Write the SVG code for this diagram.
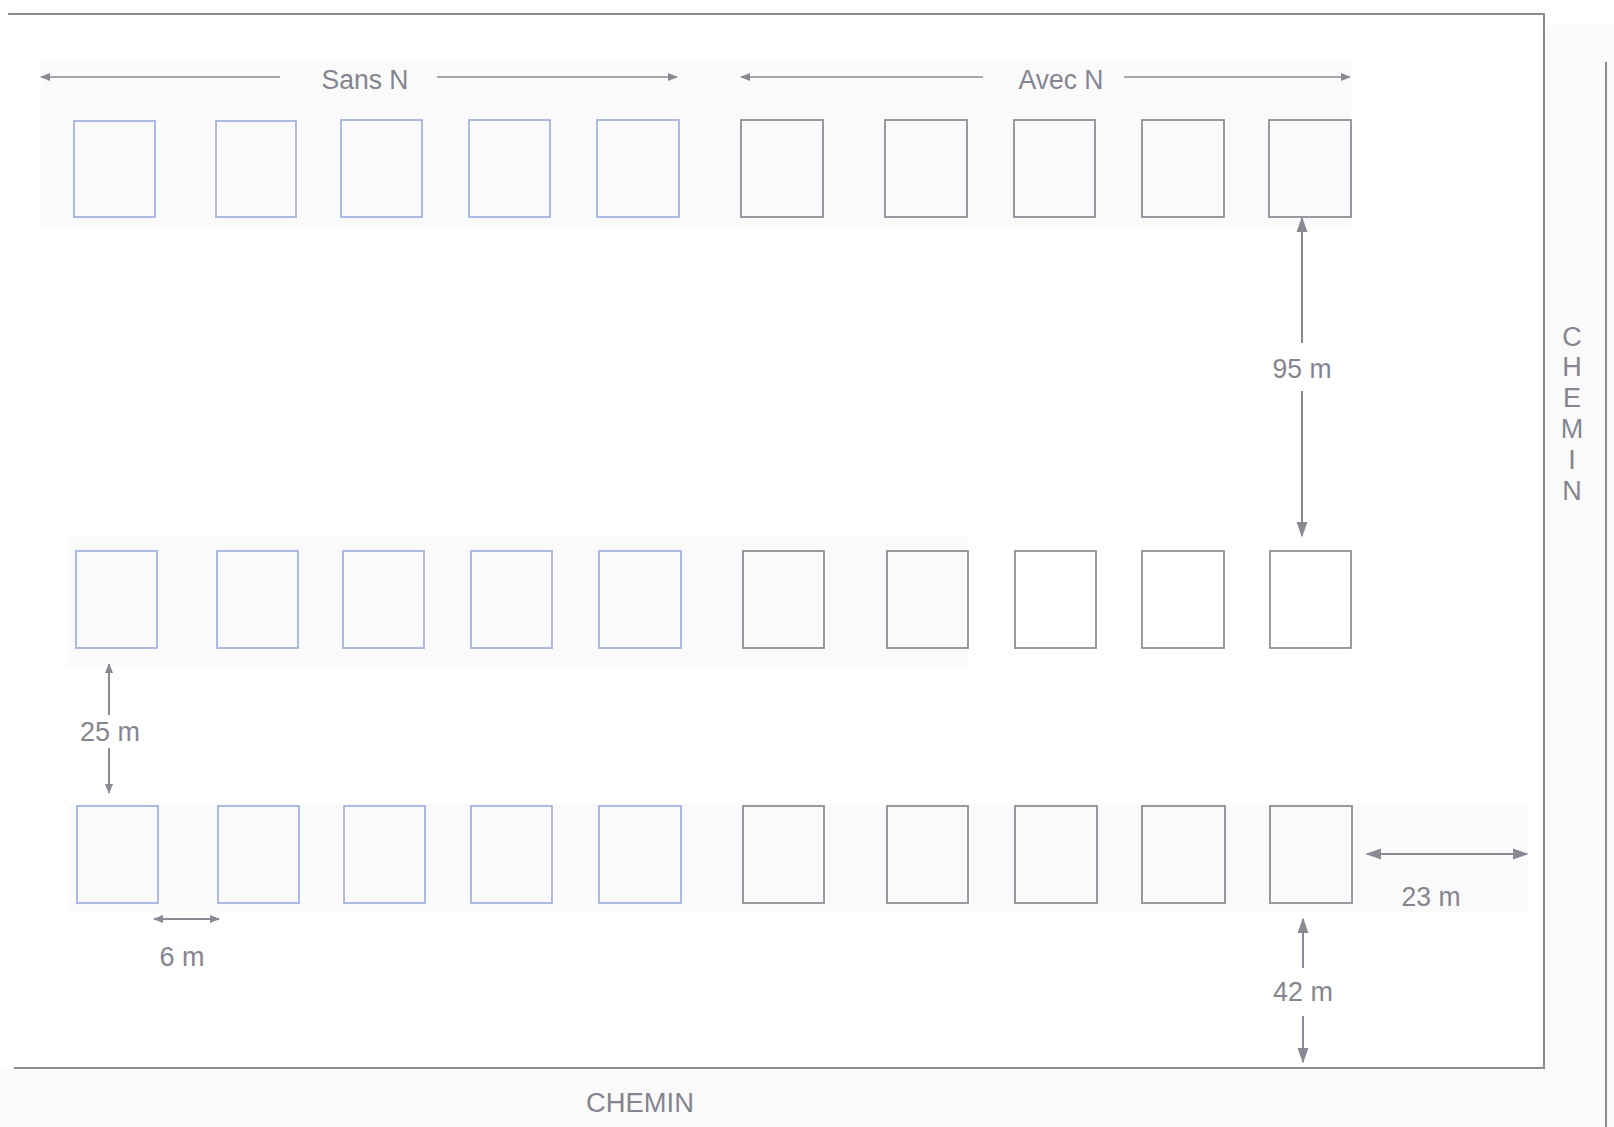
<svg xmlns="http://www.w3.org/2000/svg" width="1614" height="1127" viewBox="0 0 1614 1127">
<style>
.bg{fill:#fafafb}
.pb{fill:none;stroke:#a4b3e2;stroke-width:1.8}
.pg{fill:none;stroke:#8e8e98;stroke-width:1.8}
.ln{stroke:#8a8a94;stroke-width:2;fill:none}
.dim{stroke:#8a8a94;stroke-width:2;fill:none}
.t{font-family:"Liberation Sans",Arial,sans-serif;font-size:27px;fill:#85858f;text-anchor:middle}
</style>
<defs>
<marker id="as" viewBox="0 0 10 10" refX="9" refY="5" markerWidth="10" markerHeight="10" orient="auto-start-reverse" markerUnits="userSpaceOnUse">
<path d="M0,1 L10,5 L0,9 Z" fill="#8a8a94"/>
</marker>
<marker id="al" viewBox="0 0 10 10" refX="9" refY="5" markerWidth="16" markerHeight="16" orient="auto-start-reverse" markerUnits="userSpaceOnUse">
<path d="M0,1.5 L10,5 L0,8.5 Z" fill="#8a8a94"/>
</marker>
</defs>
<rect width="1614" height="1127" fill="#ffffff"/>
<g id="background">
<rect class="bg" x="1545" y="25" width="69" height="1102"/>
<rect class="bg" x="0" y="1070" width="1614" height="57"/>
<rect class="bg" x="41" y="62" width="1310" height="164"/>
<rect class="bg" x="68" y="535" width="900" height="132"/>
<rect class="bg" x="68" y="804" width="1460" height="108"/>
</g>
<g id="site">
<path class="ln" d="M8,14 L1544,14 L1544,1068 L14,1068"/>
<path class="ln" d="M1606,62 L1606,1127"/>
</g>
<g id="row1">
<rect class="pb" x="74" y="121" width="81" height="96"/>
<rect class="pb" x="216" y="121" width="80" height="96"/>
<rect class="pb" x="341" y="120" width="81" height="97"/>
<rect class="pb" x="469" y="120" width="81" height="97"/>
<rect class="pb" x="597" y="120" width="82" height="97"/>
<rect class="pg" x="741" y="120" width="82" height="97"/>
<rect class="pg" x="885" y="120" width="82" height="97"/>
<rect class="pg" x="1014" y="120" width="81" height="97"/>
<rect class="pg" x="1142" y="120" width="82" height="97"/>
<rect class="pg" x="1269" y="120" width="82" height="97"/>
</g>
<g id="row2">
<rect class="pb" x="76" y="551" width="81" height="97"/>
<rect class="pb" x="217" y="551" width="81" height="97"/>
<rect class="pb" x="343" y="551" width="81" height="97"/>
<rect class="pb" x="471" y="551" width="81" height="97"/>
<rect class="pb" x="599" y="551" width="82" height="97"/>
<rect class="pg" x="743" y="551" width="81" height="97"/>
<rect class="pg" x="887" y="551" width="81" height="97"/>
<rect class="pg" x="1015" y="551" width="81" height="97"/>
<rect class="pg" x="1142" y="551" width="82" height="97"/>
<rect class="pg" x="1270" y="551" width="81" height="97"/>
</g>
<g id="row3">
<rect class="pb" x="77" y="806" width="81" height="97"/>
<rect class="pb" x="218" y="806" width="81" height="97"/>
<rect class="pb" x="344" y="806" width="81" height="97"/>
<rect class="pb" x="471" y="806" width="81" height="97"/>
<rect class="pb" x="599" y="806" width="82" height="97"/>
<rect class="pg" x="743" y="806" width="81" height="97"/>
<rect class="pg" x="887" y="806" width="81" height="97"/>
<rect class="pg" x="1015" y="806" width="82" height="97"/>
<rect class="pg" x="1142" y="806" width="83" height="97"/>
<rect class="pg" x="1270" y="806" width="82" height="97"/>
</g>
<g id="connectors">
<line class="dim" style="stroke-width:1.6" x1="280" y1="77" x2="41" y2="77" marker-end="url(#as)"/>
<line class="dim" style="stroke-width:1.6" x1="437" y1="77" x2="677" y2="77" marker-end="url(#as)"/>
<line class="dim" style="stroke-width:1.6" x1="983" y1="77" x2="741" y2="77" marker-end="url(#as)"/>
<line class="dim" style="stroke-width:1.6" x1="1124" y1="77" x2="1350" y2="77" marker-end="url(#as)"/>
<line class="dim" x1="1302" y1="343" x2="1302" y2="218" marker-end="url(#al)"/>
<line class="dim" x1="1302" y1="391" x2="1302" y2="536" marker-end="url(#al)"/>
<line class="dim" x1="109" y1="715" x2="109" y2="664" marker-end="url(#as)"/>
<line class="dim" x1="109" y1="748" x2="109" y2="793" marker-end="url(#as)"/>
<line class="dim" x1="154" y1="919" x2="219" y2="919" marker-start="url(#as)" marker-end="url(#as)"/>
<line class="dim" x1="1367" y1="854" x2="1527" y2="854" marker-start="url(#al)" marker-end="url(#al)"/>
<line class="dim" x1="1303" y1="968" x2="1303" y2="919" marker-end="url(#al)"/>
<line class="dim" x1="1303" y1="1016" x2="1303" y2="1062" marker-end="url(#al)"/>
</g>
<g id="labels">
<text class="t" x="365" y="89" textLength="87" lengthAdjust="spacingAndGlyphs">Sans N</text>
<text class="t" x="1061" y="89" textLength="85" lengthAdjust="spacingAndGlyphs">Avec N</text>
<text class="t" x="1302" y="378" textLength="59" lengthAdjust="spacingAndGlyphs">95 m</text>
<text class="t" x="110" y="741" textLength="60" lengthAdjust="spacingAndGlyphs">25 m</text>
<text class="t" x="182" y="966" textLength="45" lengthAdjust="spacingAndGlyphs">6 m</text>
<text class="t" x="1431" y="906" textLength="59" lengthAdjust="spacingAndGlyphs">23 m</text>
<text class="t" x="1303" y="1001" textLength="60" lengthAdjust="spacingAndGlyphs">42 m</text>
<text class="t" x="640" y="1112" textLength="108" lengthAdjust="spacingAndGlyphs">CHEMIN</text>
<text class="t" x="1572" y="346">C</text>
<text class="t" x="1572" y="376">H</text>
<text class="t" x="1572" y="407">E</text>
<text class="t" x="1572" y="438">M</text>
<text class="t" x="1572" y="469">I</text>
<text class="t" x="1572" y="500">N</text>
</g>
</svg>
